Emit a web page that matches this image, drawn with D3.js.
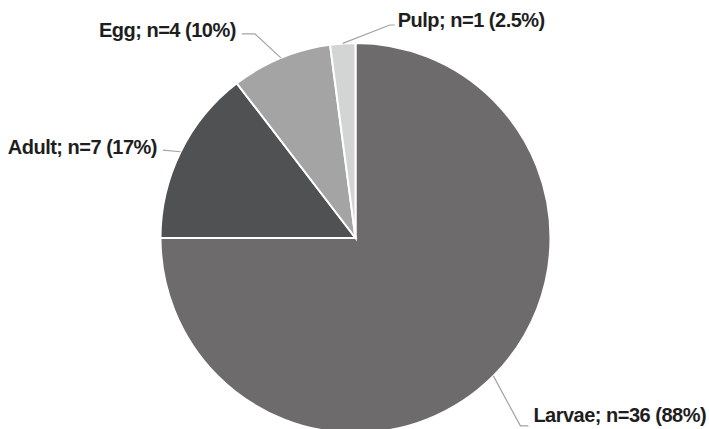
<!DOCTYPE html>
<html>
<head>
<meta charset="utf-8">
<script src="https://cdn.jsdelivr.net/npm/d3@7"></script>
<style>
  html, body { margin: 0; padding: 0; background: #fff; }
  text { font-family: "Liberation Sans", Arial, sans-serif; font-weight: bold; }
</style>
</head>
<body>
<div id="chart"></div>
<script>
const stages = ['Larvae', 'Adult', 'Egg', 'Pulp'];
const counts = [36, 7, 4, 1];
const labels = ['Larvae; n=36 (88%)', 'Adult; n=7 (17%)', 'Egg; n=4 (10%)', 'Pulp; n=1 (2.5%)'];
const colors = ['#6d6b6c', '#4f5152', '#a5a4a5', '#d3d4d4'];

const width = 709;
const height = 429;
const cx = 355.5;
const cy = 238;
const radius = 195;

// leader line elbows, relative to the point where the line leaves the slice;
// gap / base place the text relative to the line end
const leaders = [
  { elbow: [27, 50], end: [35, 50], anchor: 'start', gap: 5, base: -4 },
  { elbow: [-17.6, -1.7], end: [-17.6, -1.7], anchor: 'end', gap: 6, base: 4 },
  { elbow: [-26, -24], end: [-39, -24], anchor: 'end', gap: 6, base: 3 },
  { elbow: [47, -18.4], end: [52, -18.4], anchor: 'start', gap: 3, base: 2 }
];

const svg = d3.select('#chart')
  .append('svg')
  .attr('width', width)
  .attr('height', height);

const pie = d3.pie()
  .sort(null)
  .value((d) => d);

const arcs = pie(counts);

const arc = d3.arc()
  .innerRadius(0)
  .outerRadius(radius);

const rim = d3.arc()
  .innerRadius(radius)
  .outerRadius(radius);

const g = svg.append('g')
  .attr('transform', `translate(${cx},${cy})`);

g.selectAll('path')
  .data(arcs)
  .enter()
    .append('path')
    .attr('d', arc)
    .attr('fill', (d, i) => colors[i])
    .attr('stroke', '#fff')
    .attr('stroke-width', 2)
    .attr('stroke-linejoin', 'miter');

const label = g.selectAll('g.label')
  .data(arcs)
  .enter()
    .append('g')
    .attr('class', 'label');

label.append('polyline')
  .attr('fill', 'none')
  .attr('stroke', '#a3a3a3')
  .attr('stroke-width', 1.2)
  .attr('points', (d, i) => {
    const [x, y] = rim.centroid(d);
    const l = leaders[i];
    return [[x, y], [x + l.elbow[0], y + l.elbow[1]], [x + l.end[0], y + l.end[1]]]
      .map((p) => p.join(',')).join(' ');
  });

label.append('text')
  .attr('text-anchor', (d, i) => leaders[i].anchor)
  .attr('font-size', 20)
  .attr('letter-spacing', -0.5)
  .attr('fill', '#1e1e1e')
  .attr('x', (d, i) => {
    const l = leaders[i];
    return rim.centroid(d)[0] + l.end[0] + (l.anchor === 'start' ? l.gap : -l.gap);
  })
  .attr('y', (d, i) => rim.centroid(d)[1] + leaders[i].end[1] + leaders[i].base)
  .text((d, i) => labels[i]);
</script>
</body>
</html>
